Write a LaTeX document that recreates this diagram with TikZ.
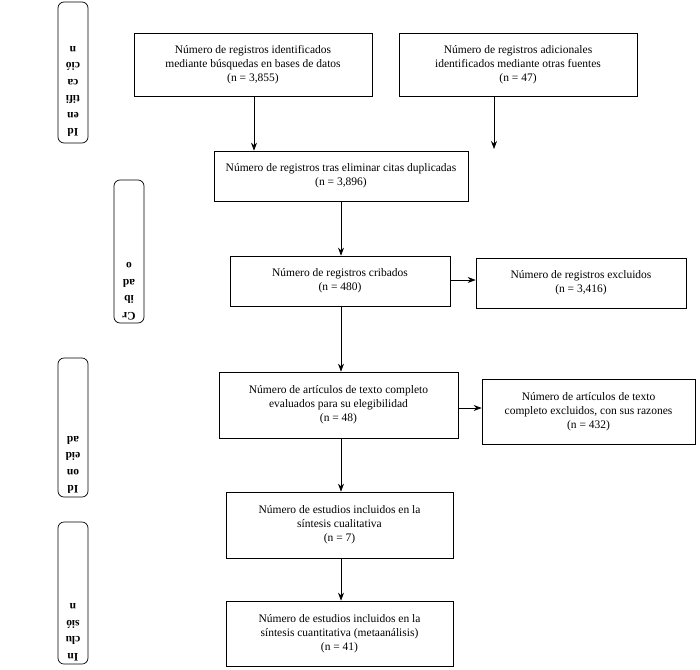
\documentclass[tikz,border=0pt]{standalone}
\usepackage{fontspec}
\setmainfont{Liberation Serif}
\usetikzlibrary{arrows.meta}
\begin{document}
\begin{tikzpicture}[x=1pt,y=-1pt,
  bx/.style={draw,line width=0.7pt,align=center,font=\fontsize{11.5}{14}\selectfont},
  side/.style={draw,line width=0.7pt,rounded corners=6pt},
  sidetxt/.style={rotate=180,align=center,anchor=north,font=\bfseries\fontsize{11.5}{16.5}\selectfont,inner sep=0pt},
  arr/.style={-{Stealth[length=8pt,width=6pt]},line width=0.7pt}]
\useasboundingbox (0,0) rectangle (700,669);
\draw[side] (58,2) rectangle (88,143);
\node[sidetxt] (s1) at (73,137) {Id\\en\\tifi\\ca\\ció\\n};
\draw[side] (114,180) rectangle (144,323);
\node[sidetxt] (s2) at (129,320) {Cr\\ib\\ad\\o};
\draw[side] (58,358) rectangle (88,497);
\node[sidetxt] (s3) at (73,494) {Id\\on\\eid\\ad};
\draw[side] (58,522) rectangle (88,664);
\node[sidetxt] (s4) at (73,661) {In\\clu\\sió\\n};

\node[bx,minimum width=238pt,minimum height=63pt] (A) at (253,64.5) {Número de registros identificados\\mediante búsquedas en bases de datos\\(n = 3,855)};
\node[bx,minimum width=238pt,minimum height=63pt] (B) at (518,64.5) {Número de registros adicionales\\identificados mediante otras fuentes\\(n = 47)};
\node[bx,minimum width=254pt,minimum height=50pt] (C) at (341,176) {Número de registros tras eliminar citas duplicadas\\(n = 3,896)};
\node[bx,minimum width=220pt,minimum height=50pt] (D) at (340,281) {Número de registros cribados\\(n = 480)};
\node[bx,minimum width=210pt,minimum height=50pt] (E) at (581,283) {Número de registros excluidos\\(n = 3,416)};
\node[bx,minimum width=239pt,minimum height=66pt] (F) at (338.5,405) {Número de artículos de texto completo\\evaluados para su elegibilidad\\(n = 48)};
\node[bx,minimum width=213pt,minimum height=65pt] (G) at (588.5,411.5) {Número de artículos de texto\\completo excluidos, con sus razones\\(n = 432)};
\node[bx,minimum width=227pt,minimum height=66pt] (H) at (339.5,525) {Número de estudios incluidos en la\\síntesis cualitativa\\(n = 7)};
\node[bx,minimum width=227pt,minimum height=65pt] (I) at (339.5,633.5) {Número de estudios incluidos en la\\síntesis cuantitativa (metaanálisis)\\(n = 41)};

\coordinate (xa) at (254,0);
\coordinate (xb) at (494,0);
\coordinate (xm) at (341,0);
\coordinate (yd) at (0,280);
\coordinate (yf) at (0,408);
\coordinate (bend) at (494,149);
\draw[arr] (A.south -| xa) -- (C.north -| xa);
\draw[arr] (B.south -| xb) -- (bend);
\draw[arr] (C.south -| xm) -- (D.north -| xm);
\draw[arr] (D.east |- yd) -- (E.west |- yd);
\draw[arr] (D.south -| xm) -- (F.north -| xm);
\draw[arr] (F.east |- yf) -- (G.west |- yf);
\draw[arr] (F.south -| xm) -- (H.north -| xm);
\draw[arr] (H.south -| xm) -- (I.north -| xm);
\end{tikzpicture}
\end{document}
